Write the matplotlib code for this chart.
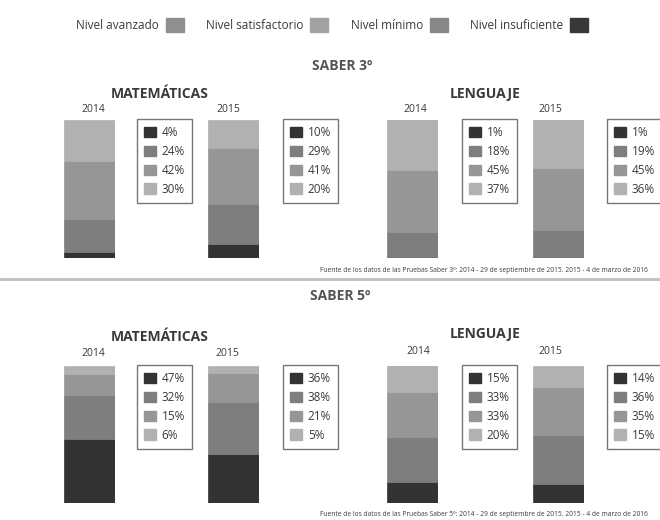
import matplotlib.pyplot as plt
from matplotlib.patches import Patch

plt.rcParams['font.family'] = ['Open Sans', 'DejaVu Sans']

niveles = ['Nivel avanzado', 'Nivel satisfactorio', 'Nivel mínimo', 'Nivel insuficiente']
colores_nivel = ['#8f8f8f', '#a2a2a2', '#888888', '#383838']

# porcentajes de abajo hacia arriba: insuficiente, mínimo, satisfactorio, avanzado
saber3_mat_2014 = [4, 24, 42, 30]
saber3_mat_2015 = [10, 29, 41, 20]
saber3_len_2014 = [1, 18, 45, 37]
saber3_len_2015 = [1, 19, 45, 36]
saber5_mat_2014 = [47, 32, 15, 6]
saber5_mat_2015 = [36, 38, 21, 5]
saber5_len_2014 = [15, 33, 33, 20]
saber5_len_2015 = [14, 36, 35, 15]
years = ['2014', '2015']
stack_colors = ['#333333', '#7e7e7e', '#969696', '#b1b1b1']

W, H = 660, 520
fig = plt.figure(figsize=(6.6, 5.2), dpi=100)
txt = '#3a3a3a'


def fx(px):
    return px / W


def fy(py):
    return 1 - py / H


def draw_bar(vals, left, top, bottom, box_left):
    ax = fig.add_axes([fx(left), fy(bottom), fx(51), (bottom - top) / H])
    base = 0
    for v, c in zip(vals, stack_colors):
        ax.bar(0, v, bottom=base, width=1, color=c, edgecolor=c, linewidth=0.5)
        base += v
    ax.set_xlim(-0.5, 0.5)
    ax.set_ylim(0, 100)
    ax.axis('off')
    handles = [Patch(facecolor=c, edgecolor=c) for c in stack_colors]
    labels = ['%d%%' % v for v in vals]
    leg = ax.legend(handles, labels, loc='upper left',
                    bbox_to_anchor=(fx(box_left), fy(top - 1)),
                    bbox_transform=fig.transFigure, fontsize=8.5,
                    handlelength=1.0, handleheight=1.0, handletextpad=0.5,
                    labelspacing=0.5, borderpad=0.6, borderaxespad=0,
                    fancybox=False, labelcolor=txt)
    leg.get_frame().set_edgecolor('#555555')
    leg.get_frame().set_linewidth(1.0)


# cabecera
fig.legend([Patch(facecolor=c, edgecolor=c) for c in colores_nivel], niveles,
           loc='center', bbox_to_anchor=(fx(332), fy(25)), ncol=4,
           markerfirst=False, frameon=False, fontsize=8.5,
           handlelength=1.5, handleheight=1.5, handletextpad=0.6,
           columnspacing=1.9, labelcolor=txt)

# SABER 3
fig.text(fx(342), fy(66), 'SABER 3º', ha='center', va='center',
         fontsize=10, fontweight='bold', color='#555555')
fig.text(fx(160), fy(94), 'MATEMÁTICAS', ha='center', va='center',
         fontsize=10, fontweight='bold', color=txt)
fig.text(fx(485), fy(94), 'LENGUAJE', ha='center', va='center',
         fontsize=10, fontweight='bold', color=txt)
for x, yr in zip([93, 228], years):
    fig.text(fx(x), fy(110), yr, ha='center', va='center', fontsize=7.5, color=txt)
for x, yr in zip([415, 550], years):
    fig.text(fx(x), fy(110), yr, ha='center', va='center', fontsize=7.5, color=txt)

draw_bar(saber3_mat_2014, 64, 120, 258, 137)
draw_bar(saber3_mat_2015, 208, 120, 258, 283)
draw_bar(saber3_len_2014, 387, 120, 258, 462)
draw_bar(saber3_len_2015, 533, 120, 258, 607)

fig.text(fx(648), fy(271), 'Fuente de los datos de las Pruebas Saber 3º: 2014 - 29 de septiembre de 2015. '
         '2015 - 4 de marzo de 2016', ha='right', va='center', fontsize=4.8, color=txt)

fig.add_artist(plt.Line2D([0, 1], [fy(279), fy(279)], color='#c4c4c4', linewidth=2.2))

# SABER 5
fig.text(fx(340), fy(296), 'SABER 5º', ha='center', va='center',
         fontsize=10, fontweight='bold', color='#555555')
fig.text(fx(160), fy(337), 'MATEMÁTICAS', ha='center', va='center',
         fontsize=10, fontweight='bold', color=txt)
fig.text(fx(485), fy(334), 'LENGUAJE', ha='center', va='center',
         fontsize=10, fontweight='bold', color=txt)
for x, yr in zip([93, 227], years):
    fig.text(fx(x), fy(353), yr, ha='center', va='center', fontsize=7.5, color=txt)
for x, yr in zip([418, 550], years):
    fig.text(fx(x), fy(351), yr, ha='center', va='center', fontsize=7.5, color=txt)

draw_bar(saber5_mat_2014, 64, 366, 503, 137)
draw_bar(saber5_mat_2015, 208, 366, 503, 283)
draw_bar(saber5_len_2014, 387, 366, 503, 462)
draw_bar(saber5_len_2015, 533, 366, 503, 607)

fig.text(fx(648), fy(515), 'Fuente de los datos de las Pruebas Saber 5º: 2014 - 29 de septiembre de 2015. '
         '2015 - 4 de marzo de 2016', ha='right', va='center', fontsize=4.8, color=txt)

fig.savefig('out.png', dpi=100)
